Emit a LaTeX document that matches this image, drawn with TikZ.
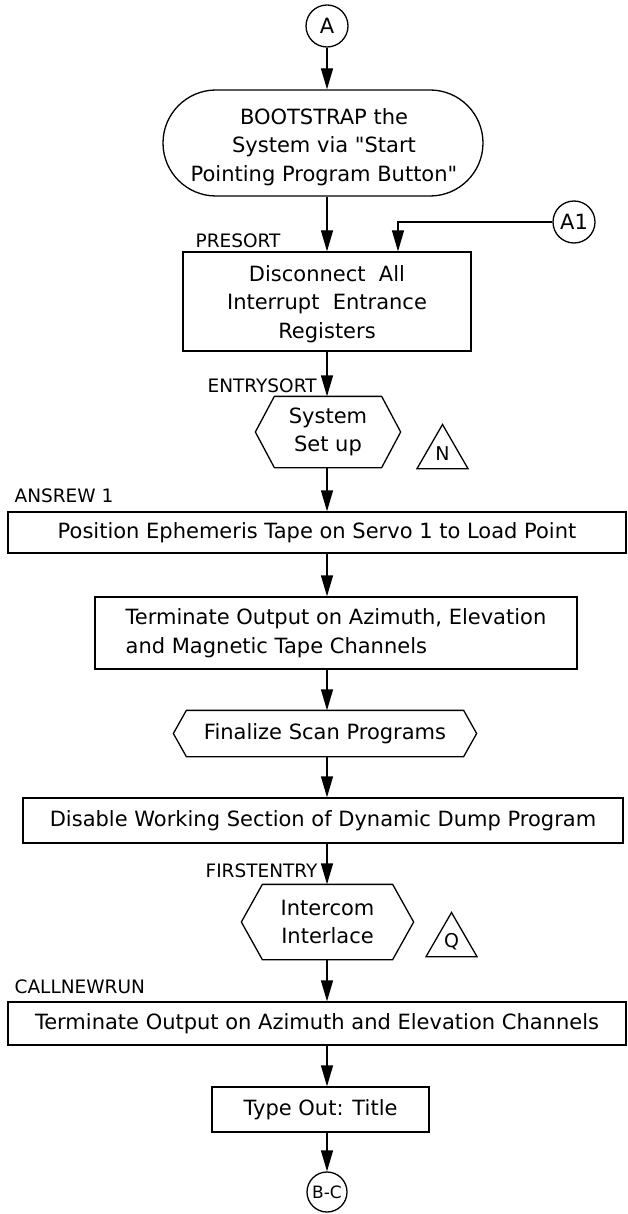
\documentclass[tikz,border=0pt]{standalone}
\usepackage{fontspec}
\setmainfont{DejaVu Sans}[Ligatures=TeXOff]
\usetikzlibrary{arrows.meta,shapes.geometric}

% outline of a flat hexagon drawn around a node
\newcommand\hexoutline[2]{%
  \draw ([xshift=#2]#1.north west) -- ([xshift=-#2]#1.north east) -- (#1.east)
    -- ([xshift=-#2]#1.south east) -- ([xshift=#2]#1.south west) -- (#1.west) -- cycle;}

\begin{document}
\begin{tikzpicture}[x=1pt,y=-1pt,line width=1.3pt,
  every node/.style={font=\fontsize{21}{28.5}\selectfont},
  box/.style={draw, rectangle, inner sep=0pt, align=center},
  terminal/.style={draw, rectangle, rounded corners=53pt, inner sep=0pt},
  txt/.style={inner sep=0pt, align=center},
  hexbox/.style={inner sep=0pt, align=center},
  conn/.style={draw, circle, minimum size=42pt, inner sep=0pt},
  tri/.style={draw, regular polygon, regular polygon sides=3, minimum size=59pt,
    inner sep=0pt, font=\fontsize{19}{19}\selectfont},
  lbl/.style={inner sep=0pt, anchor=south west, font=\fontsize{18.5}{18.5}\selectfont},
  flow/.style={-{Triangle[length=21pt,width=12pt]}}]

\useasboundingbox (0,0) rectangle (627,1214);
\coordinate (axis) at (327,0);

% connectors and process blocks
\node[conn] (a) at (327,26) {A};
\node[terminal, minimum width=320, minimum height=106] (boot) at (323,143) {};
\node[txt] (boottext) at (324,147)
  {BOOTSTRAP the\\System via "Start\\Pointing Program Button"};
\node[conn] (a1) at (574,222) {A1};
\node[box, minimum width=288, minimum height=99] (disc) at (327,301.5) {};
\node[txt] (disctext) at (327,304)
  {Disconnect\ \ All\\Interrupt\ \ Entrance\\Registers};
\node[hexbox, minimum width=144, minimum height=70] (setup) at (328,432)
  {System\\Set up};
\hexoutline{setup}{19pt}
\node[tri] (n) at (442.5,454) {N};
\node[box, minimum width=618, minimum height=41] (tape) at (317,532.5)
  {Position Ephemeris Tape on Servo 1 to Load Point};
\node[box, align=left, minimum width=482, minimum height=72] (term1) at (336,633)
  {Terminate Output on Azimuth, Elevation\\and Magnetic Tape Channels};
\node[hexbox, minimum width=302, minimum height=45] (scan) at (325,733.5)
  {Finalize Scan Programs};
\hexoutline{scan}{13pt}
\node[box, minimum width=600, minimum height=45] (dump) at (323,820.5)
  {Disable Working Section of Dynamic Dump Program};
\node[hexbox, minimum width=171, minimum height=74] (inter) at (327.5,922)
  {Intercom\\Interlace};
\hexoutline{inter}{21pt}
\node[tri] (q) at (451.5,942) {Q};
\node[box, minimum width=618, minimum height=43] (term2) at (317,1023.5)
  {Terminate Output on Azimuth and Elevation Channels};
\node[box, minimum width=217, minimum height=45] (title) at (320.5,1109.5)
  {Type Out: Title};
\node[conn, minimum size=40pt, font=\fontsize{17}{17}\selectfont] (bc) at (327,1192) {B-C};

% entry-point labels
\node[lbl] at (195,248) {PRESORT};
\node[lbl] at (207,393) {ENTRYSORT};
\node[lbl] at (14,503) {ANSREW 1};
\node[lbl] at (205,878) {FIRSTENTRY};
\node[lbl] at (14,994) {CALLNEWRUN};

% flow lines
\draw[flow] (a.south) -- (a.south |- boot.north);
\draw[flow] (boot.south -| axis) -- (disc.north -| axis);
\draw[flow] (a1.west) -| (398,0 |- disc.north);
\draw[flow] (disc.south -| axis) -- (setup.north -| axis);
\draw[flow] (setup.south -| axis) -- (tape.north -| axis);
\draw[flow] (tape.south -| axis) -- (term1.north -| axis);
\draw[flow] (term1.south -| axis) -- (scan.north -| axis);
\draw[flow] (scan.south -| axis) -- (dump.north -| axis);
\draw[flow] (dump.south -| axis) -- (inter.north -| axis);
\draw[flow] (inter.south -| axis) -- (term2.north -| axis);
\draw[flow] (term2.south -| axis) -- (title.north -| axis);
\draw[flow] (title.south -| axis) -- (bc.north);
\end{tikzpicture}
\end{document}
